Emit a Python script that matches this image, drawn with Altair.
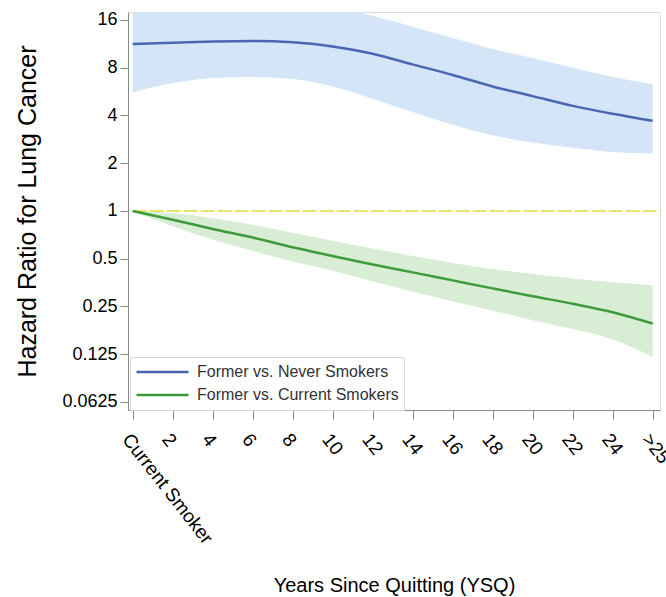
import altair as alt
import pandas as pd

years = [0, 2, 4, 6, 8, 10, 12, 14, 16, 18, 20, 22, 24, 26]

never_hr = [11.3, 11.5, 11.7, 11.8, 11.6, 10.9, 9.8, 8.4, 7.2, 6.1, 5.3, 4.6, 4.1, 3.7]
never_lo = [5.6, 6.4, 6.9, 7.0, 6.8, 6.1, 5.1, 4.2, 3.5, 3.0, 2.7, 2.5, 2.35, 2.3]
never_hi = [22, 22, 22, 22, 21, 19.5, 17, 14.5, 12.3, 10.5, 9.2, 8.0, 7.0, 6.3]

current_hr = [1.0, 0.88, 0.77, 0.68, 0.59, 0.52, 0.46, 0.41, 0.365, 0.325, 0.29, 0.26, 0.23, 0.195]
current_lo = [1.0, 0.80, 0.66, 0.56, 0.48, 0.42, 0.36, 0.31, 0.27, 0.235, 0.205, 0.18, 0.155, 0.12]
current_hi = [1.0, 0.97, 0.90, 0.82, 0.73, 0.65, 0.58, 0.52, 0.47, 0.43, 0.40, 0.375, 0.355, 0.34]

series_names = ["Former vs. Never Smokers", "Former vs. Current Smokers"]
line_colors = ["#4a66b3", "#3d9a3d"]
band_colors = ["#d3e5f7", "#d8eed4"]

y_ticks = [0.0625, 0.125, 0.25, 0.5, 1, 2, 4, 8, 16]
ref_value = [1]

rows = []
for i, x in enumerate(years):
    rows.append({"ysq": x, "series": series_names[0], "band": "b0", "hr": never_hr[i], "lo": never_lo[i], "hi": never_hi[i]})
for i, x in enumerate(years):
    rows.append({"ysq": x, "series": series_names[1], "band": "b1", "hr": current_hr[i], "lo": current_lo[i], "hi": current_hi[i]})
df = pd.DataFrame(rows)
ref_df = pd.DataFrame({"ysq": [years[0], years[-1] + 0.37], "hr": ref_value * 2})

FONT = "Liberation Sans"
x_scale = alt.Scale(domain=[-0.235, 26.37], nice=False, zero=False)
y_scale = alt.Scale(type="log", base=2, domain=[0.0556, 17.97], nice=False)

x_axis = alt.Axis(
    title="Years Since Quitting (YSQ)",
    values=years,
    labelExpr="datum.value == 0 ? 'Current Smoker' : (datum.value == 26 ? '>25' : datum.label)",
    labelAngle=52, labelAlign="left", labelBaseline="top", labelOverlap=False,
    labelFontSize=19, labelPadding=11, tickSize=9,
    titleFontSize=20, titleFontWeight="normal", titleY=181, titleBaseline="alphabetic",
    grid=False,
)
y_axis = alt.Axis(
    title="Hazard Ratio for Lung Cancer",
    values=y_ticks, format="~g", labelOverlap=False,
    labelFontSize=18, labelPadding=3, tickSize=8,
    titleFontSize=25, titleFontWeight="normal", titleX=-93, titleBaseline="alphabetic",
    grid=False,
)

base = alt.Chart(df)

bands = base.mark_area(clip=True, interpolate="monotone", opacity=1).encode(
    x=alt.X("ysq:Q", scale=x_scale, axis=x_axis),
    y=alt.Y("lo:Q", scale=y_scale, axis=y_axis),
    y2="hi:Q",
    fill=alt.Fill("band:N", scale=alt.Scale(domain=["b0", "b1"], range=band_colors), legend=None),
)

ref = alt.Chart(ref_df).mark_line(color="#e6e46a", strokeWidth=2, strokeDash=[14, 3], clip=True).encode(
    x=alt.X("ysq:Q", scale=x_scale),
    y=alt.Y("hr:Q", scale=y_scale),
)

lines = base.mark_line(clip=True, interpolate="monotone", strokeWidth=2.5).encode(
    x=alt.X("ysq:Q", scale=x_scale),
    y=alt.Y("hr:Q", scale=y_scale),
    color=alt.Color(
        "series:N",
        scale=alt.Scale(domain=series_names, range=line_colors),
        sort=series_names,
        legend=alt.Legend(
            title=None, orient="none", legendX=2, legendY=345,
            symbolType="stroke", symbolSize=2700, symbolStrokeWidth=2.5,
            clipHeight=20, labelLimit=400,
            labelFontSize=16, labelFont=FONT, labelColor="#333333", labelOffset=7,
            strokeColor="#d8d8d8", fillColor="white", padding=5, rowPadding=3,
        ),
    ),
)

chart = alt.layer(bands, ref, lines).resolve_scale(color="independent", fill="independent").properties(
    width=532, height=398,
    autosize=alt.AutoSizeParams(type="none"),
    padding={"left": 128, "top": 12, "right": 6, "bottom": 187},
).configure_view(stroke=None).configure_axis(
    labelFont=FONT, titleFont=FONT, labelColor="#333333", titleColor="#333333",
    titleFontWeight="normal", domainColor="#bdbdbd", tickColor="#bdbdbd",
).configure(background="white")

chart.save("out.html", embed_options={"renderer": "svg", "actions": False})
